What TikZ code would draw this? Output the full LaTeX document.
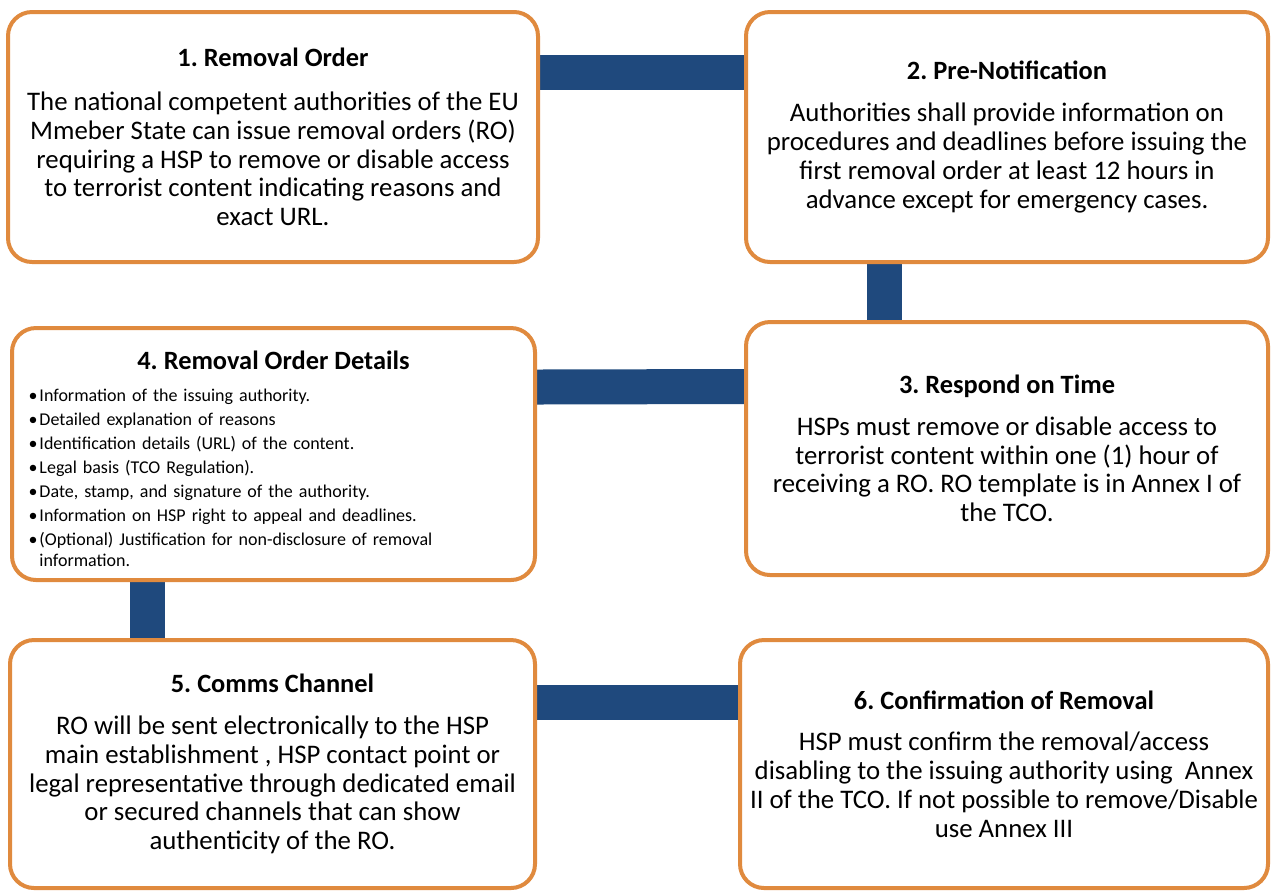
\documentclass[tikz,border=0pt]{standalone}
\usepackage{fontspec}
\setmainfont{Carlito}
\usetikzlibrary{backgrounds}
\definecolor{boxorange}{RGB}{224,138,62}
\definecolor{linkblue}{RGB}{31,73,125}

\begin{document}
\frenchspacing
\begin{tikzpicture}[x=0.5pt,y=-0.5pt]
		\tikzstyle{stepbox}=[draw=boxorange, line width=2pt, rounded corners=12pt, fill=white, align=center, inner sep=0pt, font=\fontsize{13.4}{14.4}\selectfont]
		\tikzstyle{link}=[draw=linkblue, line width=17.5pt]
		\useasboundingbox (0,0) rectangle (1272,891);
		\node [stepbox, minimum width=265pt, minimum height=125pt] (order) at (273,137) {{\fontsize{13.2}{14}\selectfont\bfseries 1. Removal Order}\\[7.5pt]The national competent authorities of the EU\\Mmeber State can issue removal orders (RO)\\requiring a HSP to remove or disable access\\to terrorist content indicating reasons and\\exact URL.};
		\node [stepbox, minimum width=261pt, minimum height=125pt] (notice) at (1007,137) {{\fontsize{13.2}{14}\selectfont\bfseries 2. Pre-Notification}\\[6.5pt]Authorities shall provide information on\\procedures and deadlines before issuing the\\first removal order at least 12 hours in\\advance except for emergency cases.};
		\node [stepbox, minimum width=261pt, minimum height=126.5pt] (respond) at (1007,448.5) {{\fontsize{13.2}{14}\selectfont\bfseries 3. Respond on Time}\\[6.5pt]HSPs must remove or disable access to\\terrorist content within one (1) hour of\\receiving a RO. RO template is in Annex I of\\the TCO.};
		\node [stepbox, align=left, text width=245pt, minimum width=261.5pt, minimum height=126pt, font=\fontsize{9}{12}\selectfont] (details) at (273.5,454) {\rule{0pt}{14pt}\makebox[245pt]{\fontsize{13.2}{14}\selectfont\bfseries 4. Removal Order Details}\\[4pt]
			\makebox[5.5pt][l]{\textbullet}Information of the issuing authority.\\
			\makebox[5.5pt][l]{\textbullet}Detailed explanation of reasons\\
			\makebox[5.5pt][l]{\textbullet}Identification details (URL) of the content.\\
			\makebox[5.5pt][l]{\textbullet}Legal basis (TCO Regulation).\\
			\makebox[5.5pt][l]{\textbullet}Date, stamp, and signature of the authority.\\
			\makebox[5.5pt][l]{\textbullet}Information on HSP right to appeal and deadlines.\\
			\makebox[5.5pt][l]{\textbullet}(Optional) Justification for non-disclosure of removal\\[-1.5pt]
			\hspace*{5.5pt}information.};
		\node [stepbox, minimum width=262.5pt, minimum height=124pt] (channel) at (272.5,764) {{\fontsize{13.2}{14}\selectfont\bfseries 5. Comms Channel}\\[6.5pt]RO will be sent electronically to the HSP\\main establishment , HSP contact point or\\legal representative through dedicated email\\or secured channels that can show\\authenticity of the RO.};
		\node [stepbox, minimum width=264pt, minimum height=124pt] (confirm) at (1004,764) {{\fontsize{13.2}{14}\selectfont\bfseries 6. Confirmation of Removal}\\[6.5pt]HSP must confirm the removal/access\\disabling to the issuing authority using\ \ Annex\\II of the TCO. If not possible to remove/Disable\\use Annex III};
		\begin{scope}[on background layer]
			\draw [link] ([yshift=32.25pt]order.east) -- ([yshift=32.25pt]notice.west);
			\draw [link] ([xshift=-61.5pt]notice.south) -- ([xshift=-61.5pt]respond.north);
			\draw [link] ([yshift=33.5pt]details.east) -- ([yshift=31pt]respond.west);
			\draw [link] ([xshift=-63pt]details.south) -- ([xshift=-62.5pt]channel.north);
			\draw [link] ([yshift=30.75pt]channel.east) -- ([yshift=30.75pt]confirm.west);
		\end{scope}
	\end{tikzpicture}
\end{document}
